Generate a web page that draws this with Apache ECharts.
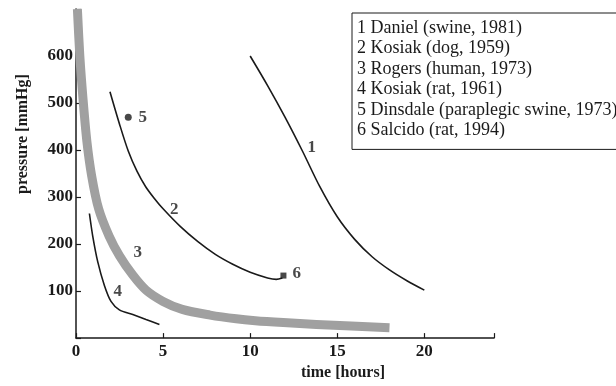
<!DOCTYPE html>
<html>
<head>
<meta charset="utf-8">
<script src="https://cdn.jsdelivr.net/npm/echarts/dist/echarts.min.js"></script>
<style>
html,body{margin:0;padding:0;background:#fff;}
#c{width:616px;height:386px;}
</style>
</head>
<body>
<div id="c"></div>
<script>
// ---- data ----
const legendNames = [
  '1 Daniel (swine, 1981)',
  '2 Kosiak (dog, 1959)',
  '3 Rogers (human, 1973)',
  '4 Kosiak (rat, 1961)',
  '5 Dinsdale (paraplegic swine, 1973)',
  '6 Salcido (rat, 1994)'
];
const xTicks = [0, 5, 10, 15, 20];
const yTicks = [100, 200, 300, 400, 500, 600];

// [time (hours), pressure (mmHg)]
const daniel = [[10,600],[11,537],[12,470],[13,398],[14,322],[15,258],[16,210],[17,173],[18,145],[19,122],[20,102]];
const kosiakDog = [[1.95,524],[2.5,455],[3,398],[3.5,355],[4,322],[4.5,297],[5,275],[6,237],[7,205],[8,178],[9,157],[10,140],[11,128],[11.5,125],[11.85,128]];
const rogers = [[0.08,700],[0.22,600],[0.4,510],[0.62,420],[0.9,345],[1.3,275],[1.9,217],[2.5,175],[3.26,134],[4.02,102],[5,78],[6.1,61],[7.7,49],[9.2,41],[10.3,37],[11.9,33],[13.8,29],[15.8,25.5],[18,22]];
const kosiakRat = [[0.77,265],[0.96,217],[1.25,162],[1.63,112],[2.01,78],[2.49,60],[3.26,50],[4.02,39.5],[4.79,29]];
const dinsdale = [[3.0,470]];
const salcido = [[11.91,133]];
// curve number labels: [x, y, text]
const curveLabels = [[13.54,405,'1'],[5.64,274,'2'],[3.54,182,'3'],[2.39,99,'4'],[3.83,468,'5'],[12.68,137,'6']];

const FONT = '"Liberation Serif", "Times New Roman", serif';
const INK = '#1a1a1a';

const chart = echarts.init(document.getElementById('c'));
const lineStyleBase = {color: INK, width: 1.6};

chart.setOption({
  animation: false,
  backgroundColor: '#fff',
  grid: {left: 76, top: 9, width: 418, bottom: 42, containLabel: false},
  legend: {
    data: legendNames,
    orient: 'vertical',
    left: 352, top: 13,
    selectedMode: false,
    icon: 'rect',
    itemWidth: 0, itemHeight: 0,
    itemGap: 0,
    padding: [5, 2, 9, 0],
    borderColor: INK, borderWidth: 1,
    backgroundColor: '#fff',
    textStyle: {fontFamily: FONT, fontSize: 18, color: INK, lineHeight: 20.4}
  },
  xAxis: {
    type: 'value', min: 0, max: 24, interval: 5,
    name: 'time [hours]', nameLocation: 'middle', nameGap: 25,
    nameTextStyle: {fontFamily: FONT, fontSize: 16, fontWeight: 'bold', color: INK, padding: [0,0,0,116]},
    axisLine: {show: true, onZero: false, lineStyle: {color: INK, width: 1.5}},
    axisTick: {show: true, inside: true, length: 5, lineStyle: {color: INK, width: 1.2}},
    axisLabel: {margin: 5, fontFamily: FONT, fontSize: 17, fontWeight: 'bold', color: INK,
      formatter: v => xTicks.indexOf(v) >= 0 ? String(v) : ''},
    splitLine: {show: false}
  },
  yAxis: {
    type: 'value', min: 0, max: 700, interval: 100,
    name: 'pressure [mmHg]', nameLocation: 'middle', nameGap: 45, nameRotate: 90,
    nameTextStyle: {fontFamily: FONT, fontSize: 16, fontWeight: 'bold', color: INK, padding: [0,0,0,79]},
    axisLine: {show: true, onZero: false, lineStyle: {color: INK, width: 1.5}},
    axisTick: {show: true, inside: true, length: 5, lineStyle: {color: INK, width: 1.2}},
    axisLabel: {margin: 3, fontFamily: FONT, fontSize: 17, fontWeight: 'bold', color: INK,
      formatter: v => yTicks.indexOf(v) >= 0 ? String(v) : ''},
    splitLine: {show: false}
  },
  series: [
    {name: legendNames[2], type: 'line', data: rogers, smooth: 0.3, symbol: 'none',
     lineStyle: {color: '#a0a0a0', width: 9, cap: 'butt', join: 'round'}, z: 1},
    {name: legendNames[0], type: 'line', data: daniel, smooth: 0.3, symbol: 'none', lineStyle: lineStyleBase, z: 2},
    {name: legendNames[1], type: 'line', data: kosiakDog, smooth: 0.3, symbol: 'none', lineStyle: lineStyleBase, z: 2},
    {name: legendNames[3], type: 'line', data: kosiakRat, smooth: 0.25, symbol: 'none', lineStyle: lineStyleBase, z: 2},
    {name: legendNames[4], type: 'scatter', data: dinsdale, symbol: 'circle', symbolSize: 7, itemStyle: {color: INK}, z: 3},
    {name: legendNames[5], type: 'scatter', data: salcido, symbol: 'rect', symbolSize: 6, itemStyle: {color: INK}, z: 3},
    {name: 'labels', type: 'scatter', data: curveLabels, symbolSize: 1, itemStyle: {color: 'rgba(0,0,0,0)'},
     label: {show: true, position: 'inside', formatter: p => p.data[2],
       fontFamily: FONT, fontSize: 17, fontWeight: 'bold', color: INK}, z: 4}
  ]
});
</script>
</body>
</html>
